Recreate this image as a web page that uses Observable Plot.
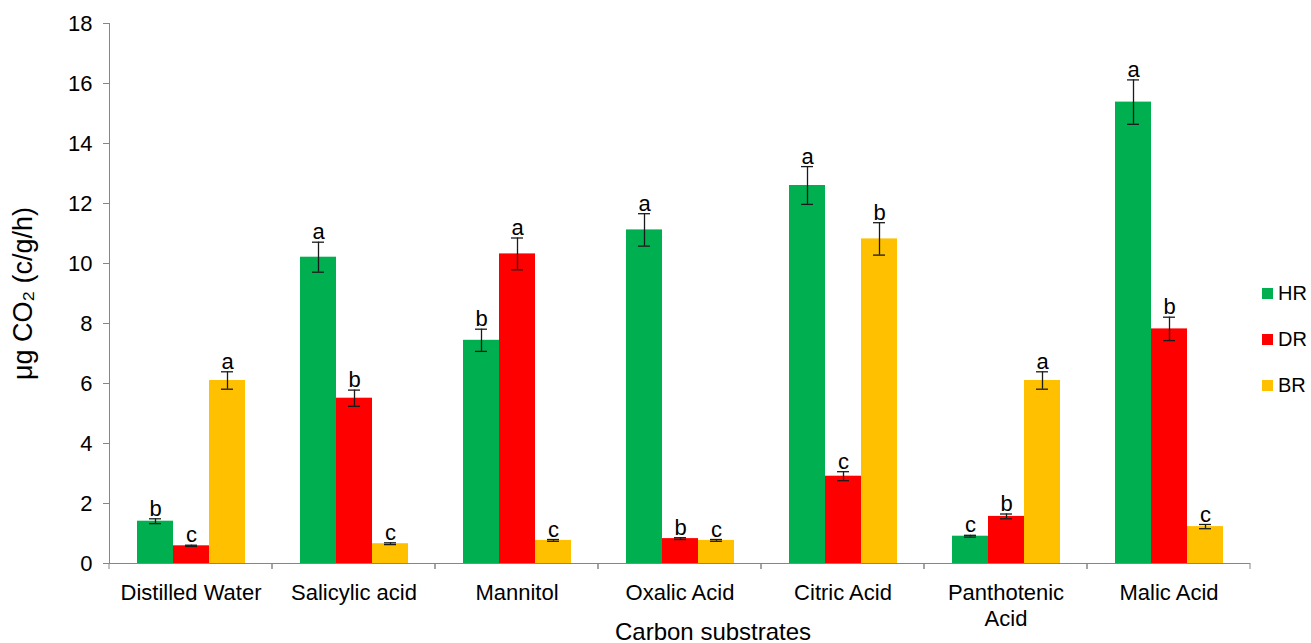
<!DOCTYPE html>
<html>
<head>
<meta charset="utf-8">
<script src="https://cdn.jsdelivr.net/npm/d3@7"></script>
<script src="https://cdn.jsdelivr.net/npm/@observablehq/plot@0.6"></script>
<style>
  body { margin: 0; background: #fff; font-family: "Liberation Sans", Arial, sans-serif; }
  #chart { position: relative; width: 1311px; height: 643px; }
  #xtitle { position: absolute; left: 615px; top: 620px; font-size: 24px; line-height: 24px; color: #000; white-space: nowrap; }
  #legend { position: absolute; left: 1262px; top: 270px; }
  #legend .row { display: flex; align-items: center; height: 46px; font-size: 20px; color: #000; }
  #legend .sw { width: 11px; height: 11px; margin-right: 5px; }
</style>
</head>
<body>
<div id="chart"></div>
<script>
// Carbon substrates on the x axis
const substrates = ["Distilled Water", "Salicylic acid", "Mannitol", "Oxalic Acid", "Citric Acid", "Panthotenic Acid", "Malic Acid"];
const substrateLabels = ["Distilled Water", "Salicylic acid", "Mannitol", "Oxalic Acid", "Citric Acid", "Panthotenic\nAcid", "Malic Acid"];

// Respiration series
const series = ["HR", "DR", "BR"];
const seriesColors = ["#00B050", "#FF0000", "#FFC000"];

// HR: mean, error, significance letter
const hrMean = [1.41, 10.21, 7.44, 11.12, 12.6, 0.91, 15.38];
const hrErr = [0.08, 0.5, 0.37, 0.54, 0.63, 0.03, 0.74];
const hrLetter = ["b", "a", "b", "a", "a", "c", "a"];

// DR
const drMean = [0.59, 5.51, 10.32, 0.83, 2.91, 1.57, 7.82];
const drErr = [0.02, 0.27, 0.53, 0.03, 0.15, 0.08, 0.39];
const drLetter = ["c", "b", "a", "b", "c", "b", "b"];

// BR
const brMean = [6.1, 0.66, 0.77, 0.77, 10.82, 6.1, 1.23];
const brErr = [0.29, 0.03, 0.03, 0.03, 0.54, 0.29, 0.07];
const brLetter = ["a", "c", "c", "c", "b", "a", "c"];

const yTicks = [0, 2, 4, 6, 8, 10, 12, 14, 16, 18];

const seriesData = {
  HR: [hrMean, hrErr, hrLetter],
  DR: [drMean, drErr, drLetter],
  BR: [brMean, brErr, brLetter]
};

const rows = [];
substrates.forEach((s, i) => {
  series.forEach(k => {
    const [m, e, l] = seriesData[k];
    rows.push({substrate: s, series: k, mean: m[i], err: e[i], letter: l[i]});
  });
});

const axisGray = "#868686";

// short tick marks at the edges of each substrate group, below the baseline
function groupEdgeTicks(index, {x, y}) {
  const g = d3.create("svg:g").attr("stroke", axisGray).attr("stroke-width", 1);
  const y0 = y(0);
  for (const px of x.range()) {
    g.append("line").attr("x1", px).attr("x2", px).attr("y1", y0).attr("y2", y0 + 6);
  }
  return g.node();
}

const chart = Plot.plot({
  width: 1311,
  height: 643,
  marginLeft: 108,
  marginRight: 60,
  marginTop: 23,
  marginBottom: 80,
  style: {fontFamily: "Liberation Sans, Arial, sans-serif", fontSize: "22px", color: "#000", background: "#fff"},
  fx: {domain: substrates, padding: 0},
  x: {domain: series, paddingInner: 0, paddingOuter: 0.72, axis: null},
  y: {domain: [0, 18]},
  color: {domain: series, range: seriesColors},
  marks: [
    Plot.frame({anchor: "left", stroke: axisGray, facetAnchor: "left"}),
    Plot.axisY({
      ticks: yTicks, tickSize: 6, tickPadding: 11, stroke: axisGray, fill: "#000", fontSize: 22,
      label: null
    }),
    Plot.axisY({
      ticks: [], tickSize: 0, fontSize: 27,
      label: "μg CO₂ (c/g/h)", labelAnchor: "center", labelArrow: "none", labelOffset: 97
    }),
    Plot.axisFx({
      anchor: "bottom", tickSize: 0, tickPadding: 18, fontSize: 22, lineHeight: 1.18, label: null,
      tickFormat: d => substrateLabels[substrates.indexOf(d)]
    }),
    Plot.barY(rows, {fx: "substrate", x: "series", y: "mean", fill: "series"}),
    Plot.ruleX(rows, {fx: "substrate", x: "series", y1: d => d.mean - d.err, y2: d => d.mean + d.err, stroke: "#1a1a1a", strokeWidth: 1.3}),
    Plot.tickY(rows, {fx: "substrate", x: "series", y: d => d.mean - d.err, stroke: "#1a1a1a", strokeWidth: 1.3, insetLeft: 12, insetRight: 12}),
    Plot.tickY(rows, {fx: "substrate", x: "series", y: d => d.mean + d.err, stroke: "#1a1a1a", strokeWidth: 1.3, insetLeft: 12, insetRight: 12}),
    Plot.text(rows, {fx: "substrate", x: "series", y: d => d.mean + d.err, text: "letter", lineAnchor: "bottom", dy: -3, fontSize: 22, fill: "#000"}),
    Plot.ruleY([0], {stroke: axisGray}),
    groupEdgeTicks
  ]
});

const root = document.getElementById("chart");
root.appendChild(chart);

const title = document.createElement("div");
title.id = "xtitle";
title.textContent = "Carbon substrates";
root.appendChild(title);

const legend = document.createElement("div");
legend.id = "legend";
series.forEach((k, i) => {
  const row = document.createElement("div");
  row.className = "row";
  const sw = document.createElement("span");
  sw.className = "sw";
  sw.style.background = seriesColors[i];
  const label = document.createElement("span");
  label.textContent = k;
  row.appendChild(sw);
  row.appendChild(label);
  legend.appendChild(row);
});
root.appendChild(legend);
</script>
</body>
</html>
